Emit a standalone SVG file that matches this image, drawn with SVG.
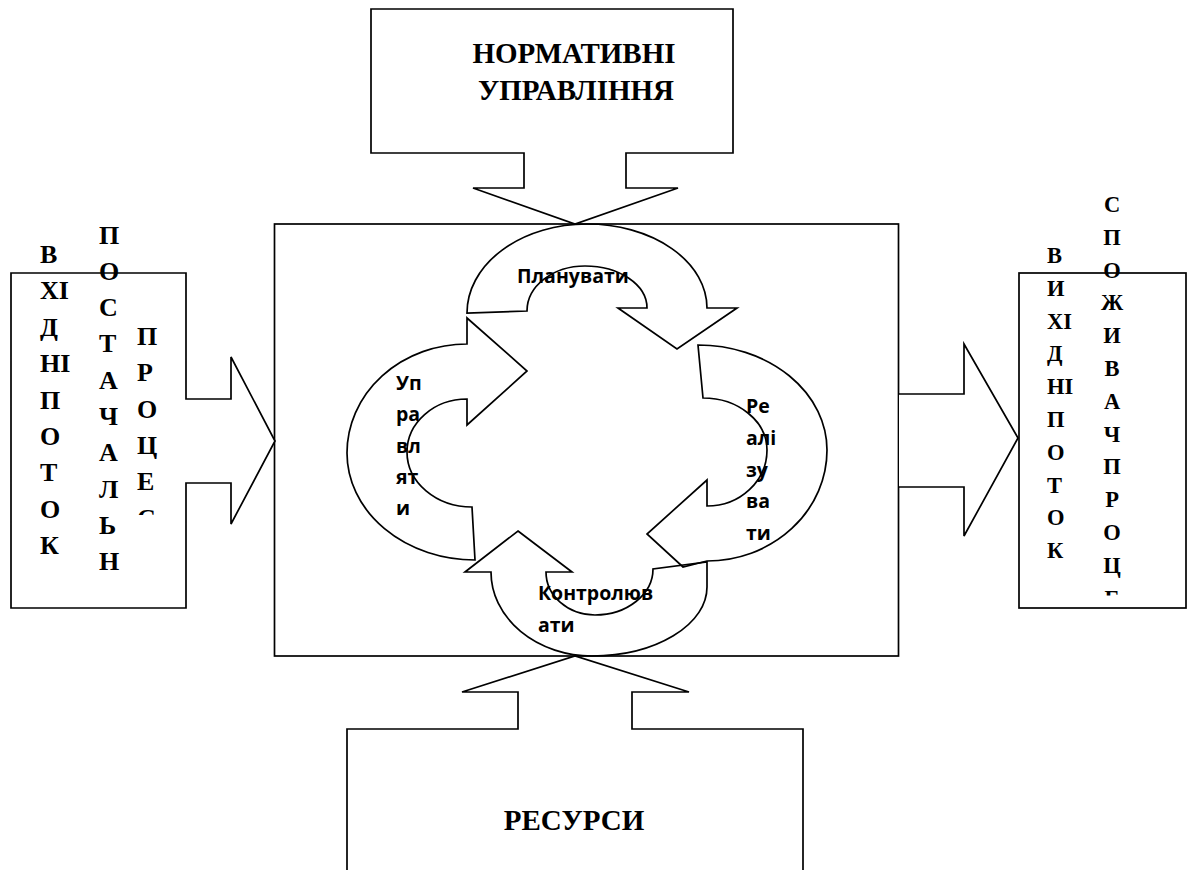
<svg xmlns="http://www.w3.org/2000/svg" width="1187" height="870" viewBox="0 0 1187 870">
<style>
.shp{fill:#fff;stroke:#000;stroke-width:1.7;stroke-linejoin:miter}
.cyc{fill:none;stroke:#000;stroke-width:1.7;stroke-linejoin:miter}
.ser{font-family:"Liberation Serif","Times New Roman",serif;font-weight:bold;fill:#000}
.big{font-size:29px}
.lv{font-size:26px}
.rv{font-size:22.5px}
.san{font-family:"Open Sans","Noto Sans",sans-serif;font-weight:bold;font-size:19.5px;fill:#000}
</style>
<defs>
<clipPath id="clipL3"><rect x="120" y="300" width="60" height="215"/></clipPath>
<clipPath id="clipR2"><rect x="1085" y="180" width="60" height="415.5"/></clipPath>
</defs>
<rect width="1187" height="870" fill="#fff"/>

<g id="node-process">
<rect class="shp" x="274.5" y="224" width="624" height="432"/>
</g>

<g id="node-norms">
<path class="shp" d="M371,9 H733 V153 H626 V188 H678 L575,224 L473,188 H524 V153 H371 Z"/>
<text class="ser big" text-anchor="middle" x="574" y="63">НОРМАТИВНІ</text>
<text class="ser big" text-anchor="middle" x="576" y="100">УПРАВЛІННЯ</text>
</g>

<g id="node-resources">
<path class="shp" d="M347,880 V729 H518 V692 H462 L575,656 L689,692 H632 V729 H803 V880"/>
<text class="ser big" text-anchor="middle" x="574" y="830">РЕСУРСИ</text>
</g>

<g id="node-input">
<path class="shp" d="M11,273 H186 V399 H231 V357 L275,441 L231,524 V483 H186 V608 H11 Z"/>
<text class="ser lv" x="40" y="263"><tspan x="40">В</tspan><tspan x="40" dy="36.4">ХІ</tspan><tspan x="40" dy="36.4">Д</tspan><tspan x="40" dy="36.4">НІ</tspan><tspan x="40" dy="36.4">П</tspan><tspan x="40" dy="36.4">О</tspan><tspan x="40" dy="36.4">Т</tspan><tspan x="40" dy="36.4">О</tspan><tspan x="40" dy="36.4">К</tspan></text>
<text class="ser lv" x="99" y="243.5"><tspan x="99">П</tspan><tspan x="99" dy="36.3">О</tspan><tspan x="99" dy="36.3">С</tspan><tspan x="99" dy="36.3">Т</tspan><tspan x="99" dy="36.3">А</tspan><tspan x="99" dy="36.3">Ч</tspan><tspan x="99" dy="36.3">А</tspan><tspan x="99" dy="36.3">Л</tspan><tspan x="99" dy="36.3">Ь</tspan><tspan x="99" dy="36.3">Н</tspan></text>
<text class="ser lv" x="137" y="345" clip-path="url(#clipL3)"><tspan x="137">П</tspan><tspan x="137" dy="36.3">Р</tspan><tspan x="137" dy="36.3">О</tspan><tspan x="137" dy="36.3">Ц</tspan><tspan x="137" dy="36.3">Е</tspan><tspan x="137" dy="36.3">С</tspan></text>
</g>

<g id="node-output">
<rect class="shp" x="1019" y="273" width="167" height="335"/>
<text class="ser rv" x="1047" y="263"><tspan x="1047">В</tspan><tspan x="1047" dy="32.8">И</tspan><tspan x="1047" dy="32.8">ХІ</tspan><tspan x="1047" dy="32.8">Д</tspan><tspan x="1047" dy="32.8">НІ</tspan><tspan x="1047" dy="32.8">П</tspan><tspan x="1047" dy="32.8">О</tspan><tspan x="1047" dy="32.8">Т</tspan><tspan x="1047" dy="32.8">О</tspan><tspan x="1047" dy="32.8">К</tspan></text>
<text class="ser rv" text-anchor="middle" x="1112" y="212" clip-path="url(#clipR2)"><tspan x="1112">С</tspan><tspan x="1112" dy="32.8">П</tspan><tspan x="1112" dy="32.8">О</tspan><tspan x="1112" dy="32.8">Ж</tspan><tspan x="1112" dy="32.8">И</tspan><tspan x="1112" dy="32.8">В</tspan><tspan x="1112" dy="32.8">А</tspan><tspan x="1112" dy="32.8">Ч</tspan><tspan x="1112" dy="32.8">П</tspan><tspan x="1112" dy="32.8">Р</tspan><tspan x="1112" dy="32.8">О</tspan><tspan x="1112" dy="32.8">Ц</tspan><tspan x="1112" dy="32.8">Е</tspan></text>
</g>

<g id="connectors">
<path class="shp" d="M899,394 H964 V344 L1018,438 L964,536 V487 H899"/>
</g>

<g id="cycle-plan">
<path class="cyc" d="M467,313 A120,89 0 0 1 587,224 A120,84 0 0 1 707,308 L737,308 L677,349 L618,308 L647,308 A62,42 0 0 0 585,266 A58,45 0 0 0 527,311 Z"/>
<text class="san" x="517" y="283">Планувати</text>
</g>

<g id="cycle-realize">
<path class="cyc" d="M698,345 A129,105 0 0 1 827,450 A120,111 0 0 1 707,561 L683,567 L647,534 L707,480 L707,506 A60,56 0 0 0 767,450 A64,52 0 0 0 703,398 Z"/>
<text class="san" x="746" y="413.3"><tspan x="746">Ре</tspan><tspan x="746" dy="31.7">алі</tspan><tspan x="746" dy="31.7">зу</tspan><tspan x="746" dy="31.7">ва</tspan><tspan x="746" dy="31.7">ти</tspan></text>
</g>

<g id="cycle-control">
<path class="cyc" d="M518,531 L572,572 L546,572 A49,43 0 0 0 595,615 A58,46 0 0 0 653,569 L707,562 L707,587 A115,69 0 0 1 592,656 A101,84 0 0 1 491,572 L465,572 Z"/>
<text class="san" x="538" y="600"><tspan x="538">Контролюв</tspan><tspan x="538" dy="31.7">ати</tspan></text>
</g>

<g id="cycle-manage">
<path class="cyc" d="M467,318 L527,371 L467,425 L467,399 A60,53 0 0 0 407,452 A65,55 0 0 0 472,507 L475,560 A128,107 0 0 1 347,453 A120,109 0 0 1 467,344 Z"/>
<text class="san" x="396" y="390"><tspan x="396">Уп</tspan><tspan x="396" dy="31.3">ра</tspan><tspan x="396" dy="31.3">вл</tspan><tspan x="396" dy="31.3">ят</tspan><tspan x="396" dy="31.3">и</tspan></text>
</g>
</svg>
